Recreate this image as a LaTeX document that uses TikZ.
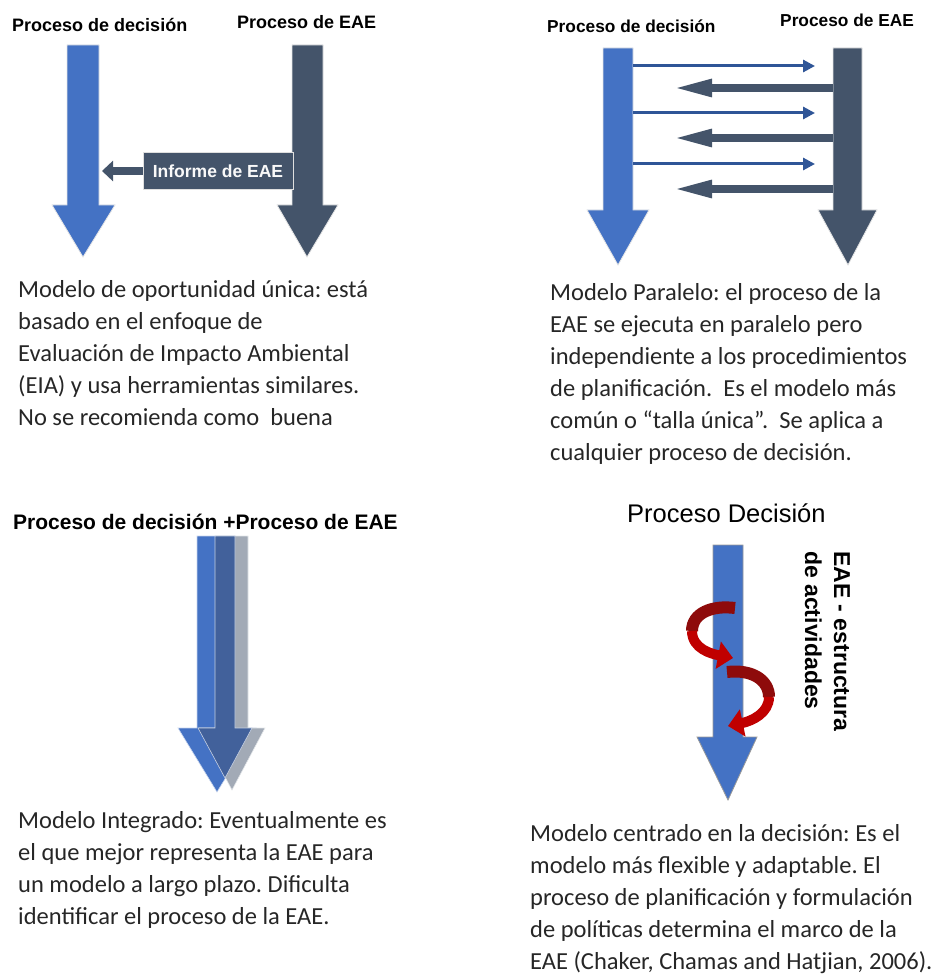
\documentclass[tikz,border=0pt]{standalone}
\usepackage{fontspec}
\setmainfont{Carlito}
\newfontfamily\arialf{Liberation Sans}
\usetikzlibrary{arrows.meta,calc}
\definecolor{eblue}{HTML}{4472C4}
\definecolor{edark}{HTML}{44546A}
\definecolor{ethin}{HTML}{2F5597}
\definecolor{emid}{HTML}{42619B}
\definecolor{egray}{HTML}{A2AAB6}
\definecolor{ered}{HTML}{C00000}
\definecolor{edred}{HTML}{8E0B0B}
\frenchspacing
\begin{document}
\begin{tikzpicture}[x=1pt,y=-1pt,
  ttl/.style={inner sep=0, anchor=base west, font=\arialf\bfseries\fontsize{#1}{#1}\selectfont},
  body/.style={inner sep=0, anchor=base west, font=\frenchspacing\fontsize{24.5}{32}\selectfont, text=black!85},
  blk/.style={fill=#1, draw=white!80!gray, line width=.8pt},
  thinarr/.style={draw=ethin, line width=3pt, -{Triangle[length=12pt,width=12pt]}},
  thickarr/.style={draw=edark, line width=8pt, -{Triangle[length=40pt,width=16pt]}}]
\useasboundingbox (0,0) rectangle (939,976);

% ---------------- top left ----------------
\node[ttl=18] (tlA) at (12,32) {Proceso de decisión};
\node[ttl=18] (tlB) at (237,29) {Proceso de EAE};
\path[blk=eblue] (67,45) -- (99,45) -- (99,205) -- (115,205) -- (83,257) -- (52,205) -- (67,205) -- cycle;
\path[blk=edark] (292,45) -- (323,45) -- (323,205) -- (338,205) -- (307,257) -- (277,205) -- (292,205) -- cycle;
\node[fill=edark, draw=white!75!gray, line width=.8pt, minimum width=150pt, minimum height=37pt, inner sep=0,
      font=\arialf\bfseries\fontsize{17.5}{17.5}\selectfont, text=white!95!gray] (inf) at (218,171) {Informe de EAE};
\coordinate (infend) at (102,169);
\draw[edark, line width=8pt, -{Triangle[length=11pt,width=20pt]}] (inf.west) -- (inf.west -| infend);
\node[body] (tlT) at (18,297) {\begin{tabular}[t]{@{}l@{}}Modelo de oportunidad única: está\\ basado en el enfoque de\\ Evaluación de Impacto Ambiental\\ (EIA) y usa herramientas similares.\\ No se recomienda como\ \ buena\end{tabular}};
\begin{scope}
  \clip (40,300) rectangle (60,439.8);
  \node[body] (tlT2) at (18,457) {práctica.};
\end{scope}

% ---------------- top right ----------------
\node[ttl=17.3] (trA) at (547,33) {Proceso de decisión};
\node[ttl=17.3] (trB) at (780,27) {Proceso de EAE};
\path[blk=eblue] (603,48) -- (633,48) -- (633,210) -- (649,210) -- (618,265) -- (587,210) -- (603,210) -- cycle;
\path[blk=edark] (833,48) -- (862,48) -- (862,210) -- (877,210) -- (848,265) -- (818,210) -- (833,210) -- cycle;
\coordinate (pb1) at (633,66);  \coordinate (pe1) at (815,66);
\coordinate (pb2) at (633,113); \coordinate (pe2) at (815,113);
\coordinate (pb3) at (633,164); \coordinate (pe3) at (815,164);
\coordinate (qb1) at (833,88);  \coordinate (qe1) at (672,88);
\coordinate (qb2) at (833,138); \coordinate (qe2) at (672,138);
\coordinate (qb3) at (833,189); \coordinate (qe3) at (672,189);
\draw[thinarr] (pb1) -- (pe1);
\draw[thinarr] (pb2) -- (pe2);
\draw[thinarr] (pb3) -- (pe3);
\draw[thickarr] (qb1) -- (qe1);
\draw[thickarr] (qb2) -- (qe2);
\draw[thickarr] (qb3) -- (qe3);
\node[body] (trT) at (550,300) {\begin{tabular}[t]{@{}l@{}}Modelo Paralelo: el proceso de la\\ EAE se ejecuta en paralelo pero\\ independiente a los procedimientos\\ de planificación.\ \ Es el modelo más\\ común o “talla única”.\ \ Se aplica a\\ cualquier proceso de decisión.\end{tabular}};

% ---------------- bottom left ----------------
\node[ttl=21] (blA) at (13,529) {Proceso de decisión +Proceso de EAE};
\path[fill=eblue, draw=white!70!eblue, line width=.6pt] (197,536) -- (235,536) -- (235,728) -- (256,728) -- (217,792) -- (178,728) -- (197,728) -- cycle;
\path[fill=egray, draw=white!70!egray, line width=.6pt] (216,536) -- (248,536) -- (248,728) -- (265,728) -- (232,790) -- (199,728) -- (216,728) -- cycle;
\path[fill=emid, draw=white!70!emid, line width=.6pt] (215,536) -- (235,536) -- (235,728) -- (252,728) -- (225,778) -- (198,728) -- (215,728) -- cycle;
\node[body] (blT) at (18,828) {\begin{tabular}[t]{@{}l@{}}Modelo Integrado: Eventualmente es\\ el que mejor representa la EAE para\\ un modelo a largo plazo. Dificulta\\ identificar el proceso de la EAE.\end{tabular}};

% ---------------- bottom right ----------------
\node[inner sep=0, anchor=base west, font=\arialf\fontsize{25.5}{25.5}\selectfont] (brA) at (627,522) {Proceso Decisión};
\path[fill=eblue, draw=gray!80, line width=.8pt] (713,545) -- (743,545) -- (743,737) -- (757,737) -- (728,800) -- (697,737) -- (713,737) -- cycle;
% curled arrows
\coordinate (ra0) at (735,608);
\coordinate (ra1) at (692,631);
\coordinate (ra2) at (733,658);
\draw[edred, line width=12pt] (ra0) .. controls (712,605) and (692,613) .. (ra1);
\draw[ered, line width=10pt, -{Triangle[length=15pt,width=27pt]}] (ra1) .. controls (692,649) and (712,654) .. (ra2);
\coordinate (rb0) at (727,672);
\coordinate (rb1) at (769,697);
\coordinate (rb2) at (728,726);
\draw[edred, line width=12pt] (rb0) .. controls (752,669) and (769,680) .. (rb1);
\draw[ered, line width=10pt, -{Triangle[length=15pt,width=27pt]}] (rb1) .. controls (769,713) and (752,721) .. (rb2);
\node[rotate=-90, inner sep=0, anchor=base west, font=\arialf\bfseries\fontsize{23}{29}\selectfont] (eae) at (834,551) {\begin{tabular}[t]{@{}l@{}}EAE - estructura\\ de actividades\end{tabular}};
\node[body] (brT) at (530,841) {\begin{tabular}[t]{@{}l@{}}Modelo centrado en la decisión: Es el\\ modelo más flexible y adaptable. El\\ proceso de planificación y formulación\\ de políticas determina el marco de la\\ EAE (Chaker, Chamas and Hatjian, 2006).\end{tabular}};
\end{tikzpicture}
\end{document}
